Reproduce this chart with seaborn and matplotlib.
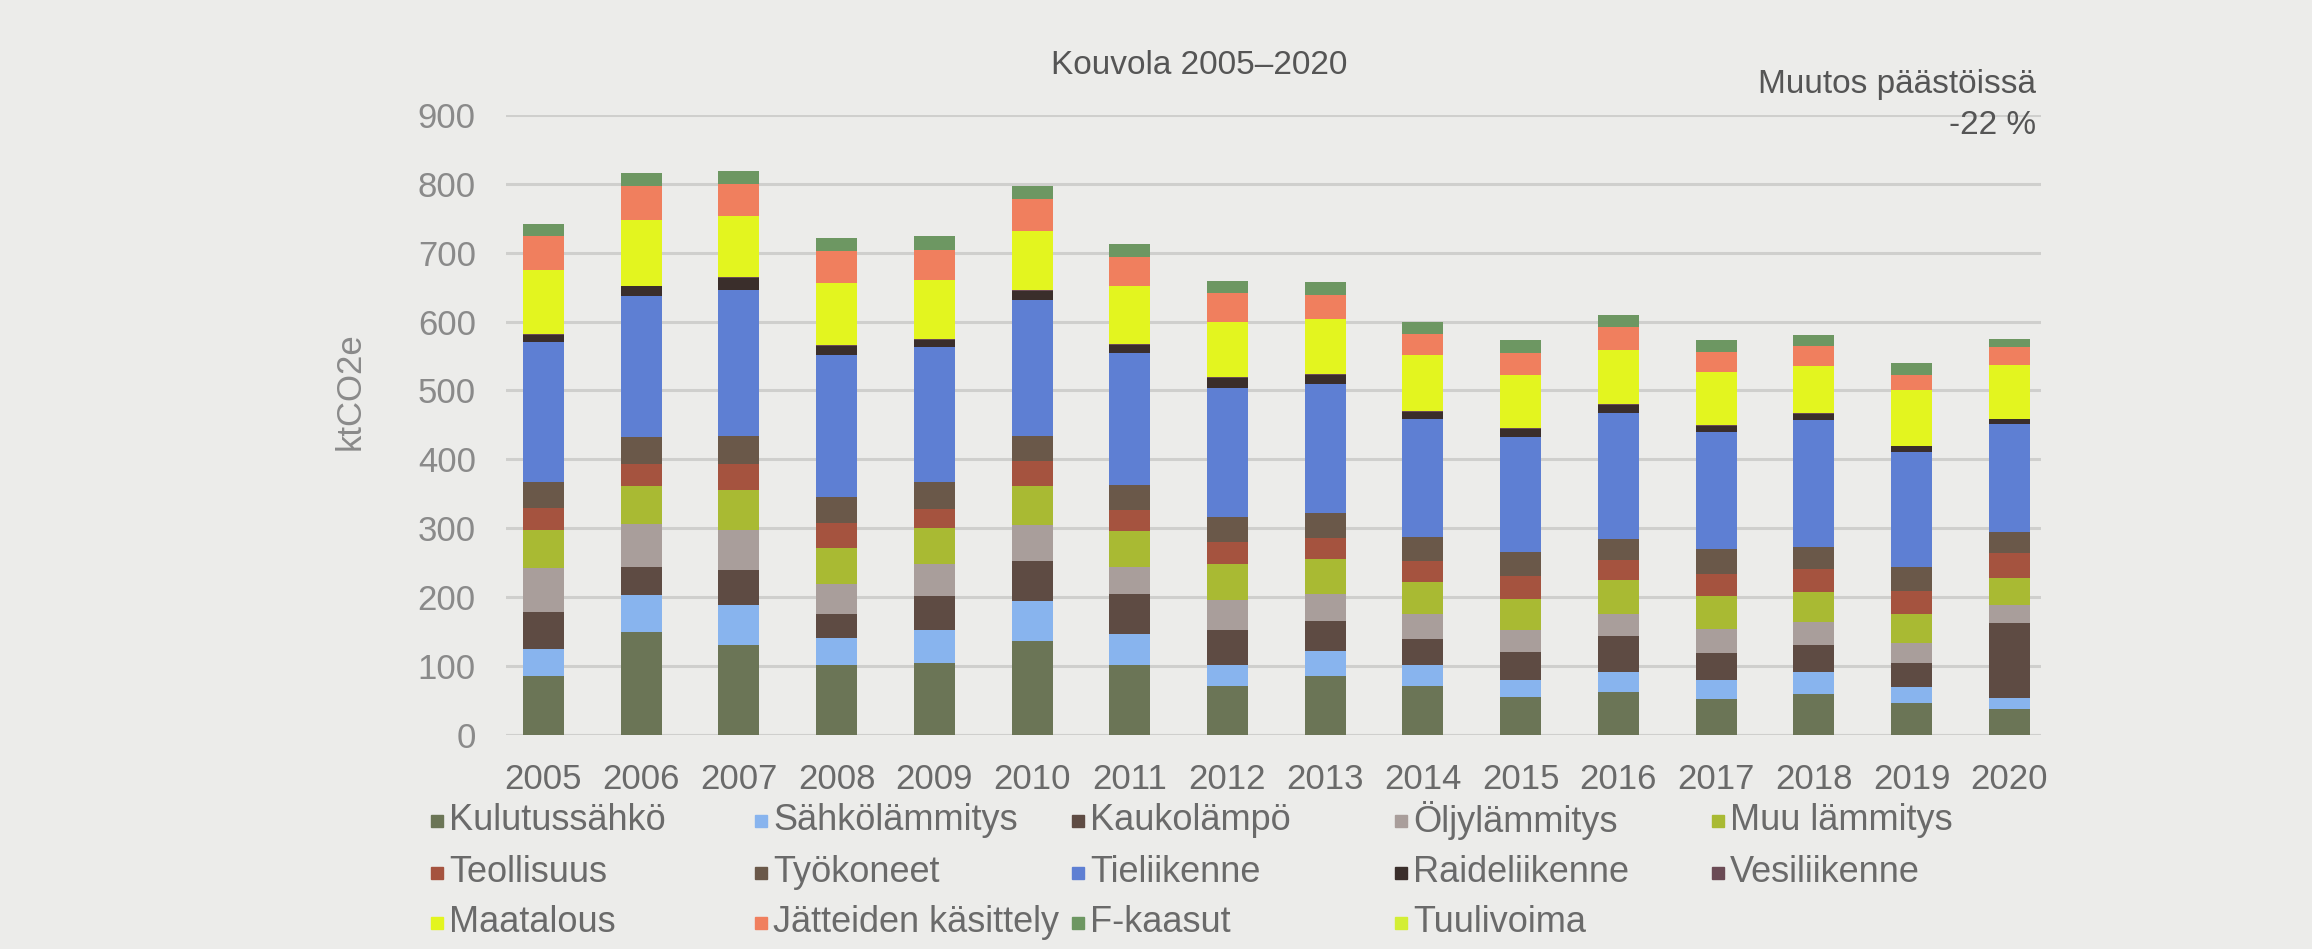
import numpy as np
import pandas as pd
import matplotlib
matplotlib.use("Agg")
import matplotlib.pyplot as plt
import seaborn as sns
from matplotlib.patches import Rectangle

# ---------------- data ----------------
years = ["2005", "2006", "2007", "2008", "2009", "2010", "2011", "2012",
         "2013", "2014", "2015", "2016", "2017", "2018", "2019", "2020"]

kulutussahko   = [86, 149, 131, 101, 105, 137, 101, 71, 85, 71, 55, 62, 52, 59, 47, 38]
sahkolammitys  = [39, 54, 58, 40, 48, 58, 45, 31, 37, 31, 25, 29, 28, 32, 23, 15]
kaukolampo     = [54, 41, 51, 35, 48, 58, 58, 50, 44, 37, 40, 52, 39, 40, 35, 109]
oljylammitys   = [64, 62, 57, 43, 47, 52, 40, 44, 39, 37, 33, 33, 35, 33, 28, 26]
muu_lammitys   = [54, 56, 58, 52, 52, 56, 52, 52, 51, 46, 45, 49, 47, 43, 43, 40]
teollisuus     = [32, 32, 38, 37, 28, 36, 30, 32, 30, 31, 33, 29, 33, 34, 33, 36]
tyokoneet      = [38, 38, 41, 38, 39, 37, 37, 36, 36, 34, 34, 31, 36, 32, 35, 30]
tieliikenne    = [204, 205, 212, 206, 196, 197, 192, 188, 188, 171, 168, 183, 170, 184, 166, 158]
raideliikenne  = [10, 14, 17, 13, 10, 14, 11, 14, 13, 11, 11, 11, 9, 9, 9, 6]
vesiliikenne   = [1, 1, 1, 1, 1, 1, 1, 1, 1, 1, 1, 1, 1, 1, 1, 1]
maatalous      = [93, 96, 89, 90, 87, 86, 85, 81, 80, 81, 77, 78, 77, 69, 81, 78]
jatteet        = [49, 49, 47, 46, 43, 46, 42, 41, 34, 31, 32, 34, 29, 28, 22, 26]
f_kaasut       = [18, 19, 18, 19, 20, 19, 19, 18, 19, 18, 19, 18, 17, 16, 17, 11]
tuulivoima     = [0, 0, 0, 0, 0, 0, 0, 0, 0, 0, 0, 0, 0, 0, 0, 0]

series_labels = ["Kulutussähkö", "Sähkölämmitys", "Kaukolämpö", "Öljylämmitys",
                 "Muu lämmitys", "Teollisuus", "Työkoneet", "Tieliikenne",
                 "Raideliikenne", "Vesiliikenne", "Maatalous",
                 "Jätteiden käsittely", "F-kaasut", "Tuulivoima"]
series_values = [kulutussahko, sahkolammitys, kaukolampo, oljylammitys,
                 muu_lammitys, teollisuus, tyokoneet, tieliikenne,
                 raideliikenne, vesiliikenne, maatalous, jatteet, f_kaasut,
                 tuulivoima]
series_colors = ["#6B7556", "#88B4EE", "#5E4B43", "#A99E9B", "#A9BA33",
                 "#A5533F", "#6A5849", "#5E7FD3", "#3A2E2B", "#6B4B55",
                 "#E3F51F", "#F07F5E", "#6D9762", "#D3EE35"]

yticks = [0, 100, 200, 300, 400, 500, 600, 700, 800, 900]

title_text = "Kouvola 2005–2020"
note_line1 = "Muutos päästöissä"
note_line2 = "-22 %"
ylabel_text = "ktCO2e"

# ---------------- style ----------------
BG = "#ECECEA"
TXT = "#6A6A6A"
GRID = "#CFCFCD"

sns.set_theme(style="white")
plt.rcParams['font.family'] = ['Liberation Sans', 'DejaVu Sans']

fig = plt.figure(figsize=(23.12, 9.49), dpi=100, facecolor=BG)
ax = fig.add_axes([0.219, 0.2255, 0.664, 0.6535])
ax.set_facecolor(BG)

df = pd.DataFrame(dict(zip(series_labels, series_values)), index=years)
cum = df.cumsum(axis=1)

# draw cumulative totals from the top layer down so that the stacks appear
for name, col in reversed(list(zip(series_labels, series_colors))):
    sns.barplot(x=years, y=cum[name].values, color=col, width=0.42,
                saturation=1, linewidth=0, ax=ax, zorder=3)

ax.set_ylim(0, 900)
ax.set_xlim(-0.38, 15.33)
ax.set_yticks(yticks)
ax.set_yticklabels([str(v) for v in yticks])
ax.yaxis.grid(True, color=GRID, linewidth=2.2, zorder=0)
ax.xaxis.grid(False)
ax.set_axisbelow(True)
for s in ax.spines.values():
    s.set_visible(False)
ax.axhline(0, color=GRID, linewidth=2.2, zorder=1)
ax.tick_params(axis='x', length=0, pad=20, labelsize=25, labelcolor=TXT)
ax.tick_params(axis='y', length=0, pad=22, labelsize=25, labelcolor="#8A8A8A")
ax.set_xlabel("")
ax.set_ylabel("")

fig.text(350 / 2312, 1 - 391 / 949, ylabel_text, rotation=90, ha="center",
         va="center", fontsize=25, color="#8A8A8A")
fig.text(1199 / 2312, 1 - 66 / 949, title_text, ha="center", va="center",
         fontsize=24, color="#555555")
fig.text(2036 / 2312, 1 - 84 / 949, note_line1, ha="right", va="center",
         fontsize=24, color="#555555")
fig.text(2036 / 2312, 1 - 125 / 949, note_line2, ha="right", va="center",
         fontsize=24, color="#555555")

# legend laid out in rows like the original (5 per row)
col_x = [431, 755, 1072, 1395, 1712]
row_y = [821, 873, 923]
msize = 12
for i, (lab, col) in enumerate(zip(series_labels, series_colors)):
    r, c = divmod(i, 5)
    x = col_x[c]
    y = row_y[r]
    fig.patches.append(Rectangle((x / 2312, 1 - (y + msize / 2) / 949),
                                 msize / 2312, msize / 949,
                                 transform=fig.transFigure, color=col,
                                 figure=fig))
    fig.text((x + msize + 6) / 2312, 1 - y / 949, lab, ha="left", va="center",
             fontsize=26, color=TXT)

fig.savefig("out.png", dpi=100, facecolor=BG)
